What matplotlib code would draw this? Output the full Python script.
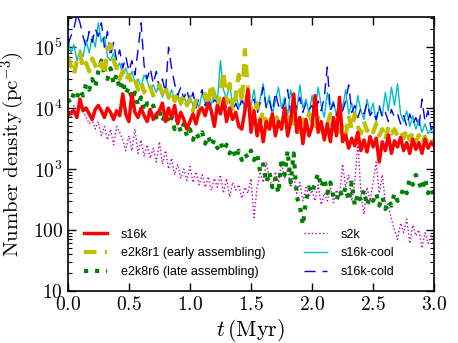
import matplotlib
matplotlib.use('Agg')
import matplotlib.pyplot as plt
import numpy as np

t = np.linspace(0.0, 3.0, 121)

s16k = [7500, 8500, 9000, 7000, 14000, 9000, 10000, 8000, 6500, 9500,
        11000, 9000, 7000, 10000, 8500, 6500, 9000, 7500, 17000, 8000,
        6000, 17000, 8500, 7000, 10000, 7500, 6000, 9500, 6500, 8000,
        9000, 12000, 6000, 10000, 7000, 11000, 5500, 8500, 6500, 4500,
        6000, 8000, 5500, 9000, 10000, 7500, 12000, 9000, 5000, 11000,
        8000, 14000, 6000, 10000, 6500, 8500, 5000, 4500, 9000, 20000,
        4000, 9000, 3500, 6500, 2800, 6000, 4500, 8000, 3500, 6000,
        4500, 10000, 3500, 6000, 17000, 4000, 7000, 2600, 6500, 3500,
        5000, 16000, 4000, 6000, 3000, 5500, 2800, 7000, 3500, 15000,
        2800, 3600, 2200, 3200, 2400, 4000, 2000, 3000, 1900, 3400,
        2300, 3200, 1300, 2800, 2000, 3600, 1800, 2900, 2300, 3300,
        2000, 2700, 1800, 3100, 2100, 2700, 1800, 3100, 2200, 2700,
        2400]

e2k8r1 = [70000, 50000, 35000, 60000, 80000, 45000, 55000, 40000, 65000, 50000,
          40000, 55000, 35000, 90000, 110000, 60000, 45000, 30000, 40000, 28000,
          35000, 25000, 30000, 20000, 27000, 18000, 25000, 22000, 16000, 20000,
          24000, 17000, 22000, 15000, 19000, 13000, 18000, 12000, 16000, 11000,
          14000, 9000, 13000, 8000, 12000, 17000, 11000, 25000, 15000, 10000,
          18000, 40000, 12000, 25000, 9000, 16000, 35000, 12000, 90000, 20000,
          10000, 7000, 12000, 6000, 9000, 5500, 8000, 5000, 7500, 6000,
          5000, 8000, 4500, 9000, 5500, 7000, 4000, 6500, 5000, 8000,
          6000, 4500, 7000, 5000, 3500, 5500, 8000, 4500, 6000, 4000,
          5000, 3500, 7500, 4500, 8000, 5000, 3800, 6000, 4200, 5000,
          4000, 5500, 3500, 4500, 3000, 5000, 3800, 4500, 3500, 4200,
          3200, 4500, 3000, 4000, 2800, 3600, 2600, 3400, 2500, 3000,
          2800]

e2k8r6 = [14000, 12000, 18000, 15000, 20000, 16000, 25000, 20000, 30000, 22000,
          40000, 60000, 35000, 30000, 45000, 25000, 35000, 20000, 28000, 17000,
          22000, 14000, 18000, 11000, 15000, 9000, 12000, 8000, 11000, 7000,
          9000, 6000, 8000, 5500, 7000, 4500, 6500, 4000, 5500, 3500,
          4500, 3000, 4000, 3200, 4000, 2600, 3500, 2400, 3000, 2200,
          2800, 2000, 2500, 1800, 2200, 1500, 2000, 1400, 1800, 1500,
          2000, 1400, 1800, 900, 1200, 600, 900, 500, 700, 400,
          1500, 800, 2000, 600, 1800, 350, 250, 120, 300, 500,
          400, 600, 850, 500, 700, 400, 600, 350, 300, 450,
          350, 500, 300, 600, 250, 400, 300, 450, 250, 350,
          300, 400, 250, 350, 220, 300, 250, 400, 300, 350,
          500, 400, 700, 550, 800, 600, 450, 700, 400, 500,
          350]

s2k = [9000, 7000, 11000, 8000, 12000, 9000, 7000, 5500, 6500, 4500,
       6000, 3500, 5000, 3000, 4500, 2500, 5000, 4000, 3000, 2000,
       3500, 2000, 4500, 1800, 3000, 1600, 2500, 1500, 2200, 1300,
       2800, 1200, 2000, 1000, 1500, 800, 1200, 700, 1000, 650,
       1100, 600, 900, 550, 800, 500, 750, 450, 700, 500,
       800, 400, 700, 350, 600, 450, 550, 330, 500, 400,
       700, 160, 500, 900, 600, 1300, 700, 500, 900, 600,
       1300, 700, 1000, 500, 800, 400, 600, 300, 500, 350,
       450, 300, 550, 260, 400, 300, 500, 280, 450, 350,
       1200, 500, 800, 300, 600, 2800, 400, 180, 500, 300,
       600, 1300, 400, 800, 290, 250, 150, 100, 70, 130,
       90, 150, 60, 120, 80, 100, 50, 90, 60, 80,
       53]

s16k_cool = [150000, 80000, 110000, 60000, 90000, 70000, 130000, 80000, 150000, 100000,
             250000, 120000, 150000, 70000, 60000, 80000, 45000, 55000, 35000, 45000,
             30000, 40000, 25000, 30000, 22000, 35000, 28000, 20000, 24000, 18000,
             26000, 15000, 22000, 14000, 20000, 13000, 17000, 11000, 15000, 12000,
             16000, 11000, 14000, 10000, 18000, 12000, 15000, 11000, 20000, 13000,
             60000, 20000, 14000, 25000, 11000, 18000, 10000, 15000, 9000, 13000,
             11000, 20000, 9000, 14000, 25000, 10000, 16000, 8000, 13000, 22000,
             10000, 15000, 7500, 20000, 11000, 9000, 24000, 10000, 14000, 8000,
             16000, 9000, 22000, 11000, 7000, 18000, 9500, 13000, 7500, 15000,
             10000, 20000, 8000, 12000, 7000, 16000, 9000, 6500, 14000, 8000,
             12000, 6000, 10000, 7500, 18000, 9000, 22000, 11000, 25000, 8000,
             6000, 9000, 5000, 7500, 4500, 6500, 4000, 5500, 3800, 4500,
             3600]

s16k_cold = [110000, 150000, 200000, 350000, 250000, 150000, 100000, 180000, 120000, 200000,
             150000, 250000, 100000, 180000, 70000, 120000, 60000, 90000, 45000, 70000,
             40000, 60000, 35000, 90000, 250000, 50000, 30000, 45000, 25000, 40000,
             20000, 30000, 18000, 100000, 45000, 25000, 16000, 22000, 14000, 20000,
             12000, 18000, 10000, 15000, 20000, 11000, 16000, 9000, 14000, 12000,
             12000, 15000, 10000, 13000, 8500, 12000, 9000, 14000, 10000, 11000,
             9000, 14000, 8000, 12000, 22000, 10000, 13000, 8500, 18000, 11000,
             9000, 12000, 20000, 8000, 13000, 10000, 15000, 8500, 12000, 9500,
             11000, 8000, 13000, 9000, 15000, 47000, 9000, 12000, 7500, 11000,
             9000, 13000, 24000, 8500, 11000, 7000, 10000, 8000, 12000, 7500,
             9000, 6500, 11000, 7000, 8500, 6000, 9500, 7000, 8000, 5500,
             7500, 5000, 8000, 5500, 7000, 4800, 14000, 6000, 9000, 4500,
             5000]

xticks = [0.0, 0.5, 1.0, 1.5, 2.0, 2.5, 3.0]
xtick_labels = ['$0.0$', '$0.5$', '$1.0$', '$1.5$', '$2.0$', '$2.5$', '$3.0$']
yticks = [10, 100, 1e3, 1e4, 1e5]
ytick_labels = ['$10$', '$100$', '$10^3$', '$10^4$', '$10^5$']

# --- plot ---
plt.rcParams['mathtext.fontset'] = 'cm'
plt.rcParams['font.family'] = 'Liberation Sans'

fig = plt.figure(figsize=(4.58, 3.43), dpi=100)
ax = fig.add_axes([0.148, 0.152, 0.800, 0.798])

l_s2k, = ax.plot(t, s2k, color='m', ls=':', lw=1.0, label='s2k')
l_r6, = ax.plot(t, e2k8r6, color='g', ls=':', lw=3.0, label='e2k8r6 (late assembling)')
l_cool, = ax.plot(t, s16k_cool, color='c', ls='-', lw=1.0, label='s16k-cool')
l_cold, = ax.plot(t, s16k_cold, color='b', ls='--', dashes=(8, 5), lw=1.0, label='s16k-cold')
l_r1, = ax.plot(t, e2k8r1, color=(0.75, 0.75, 0), ls='--', dashes=(3, 2), lw=3.0,
                label='e2k8r1 (early assembling)')
l_s16k, = ax.plot(t, s16k, color='r', ls='-', lw=2.5, label='s16k')

ax.set_yscale('log')
ax.set_xlim(0, 3.0)
ax.set_ylim(10, 3.1e5)
ax.set_xticks(xticks)
ax.set_xticklabels(xtick_labels)
ax.set_yticks(yticks)
ax.set_yticklabels(ytick_labels)
ax.tick_params(which='both', direction='in', top=True, right=True, labelsize=14)
ax.tick_params(which='major', length=6, width=1)
ax.tick_params(which='minor', length=3, width=0.8)
for s in ax.spines.values():
    s.set_linewidth(1.2)

ax.set_xlabel(r'$t\,(\mathrm{Myr})$', fontsize=16, labelpad=2)
ax.set_ylabel(r'$\mathrm{Number\ density}\,(\mathrm{pc}^{-3})$', fontsize=15, labelpad=4)

ax.legend(handles=[l_s16k, l_r1, l_r6, l_s2k, l_cool, l_cold], ncol=2, loc='lower left',
          bbox_to_anchor=(0.01, 0.0), frameon=False, fontsize=9, handlelength=1.85,
          handletextpad=1.1, columnspacing=3.1, labelspacing=0.55, borderaxespad=0.6)

fig.savefig('out.png', dpi=100)
